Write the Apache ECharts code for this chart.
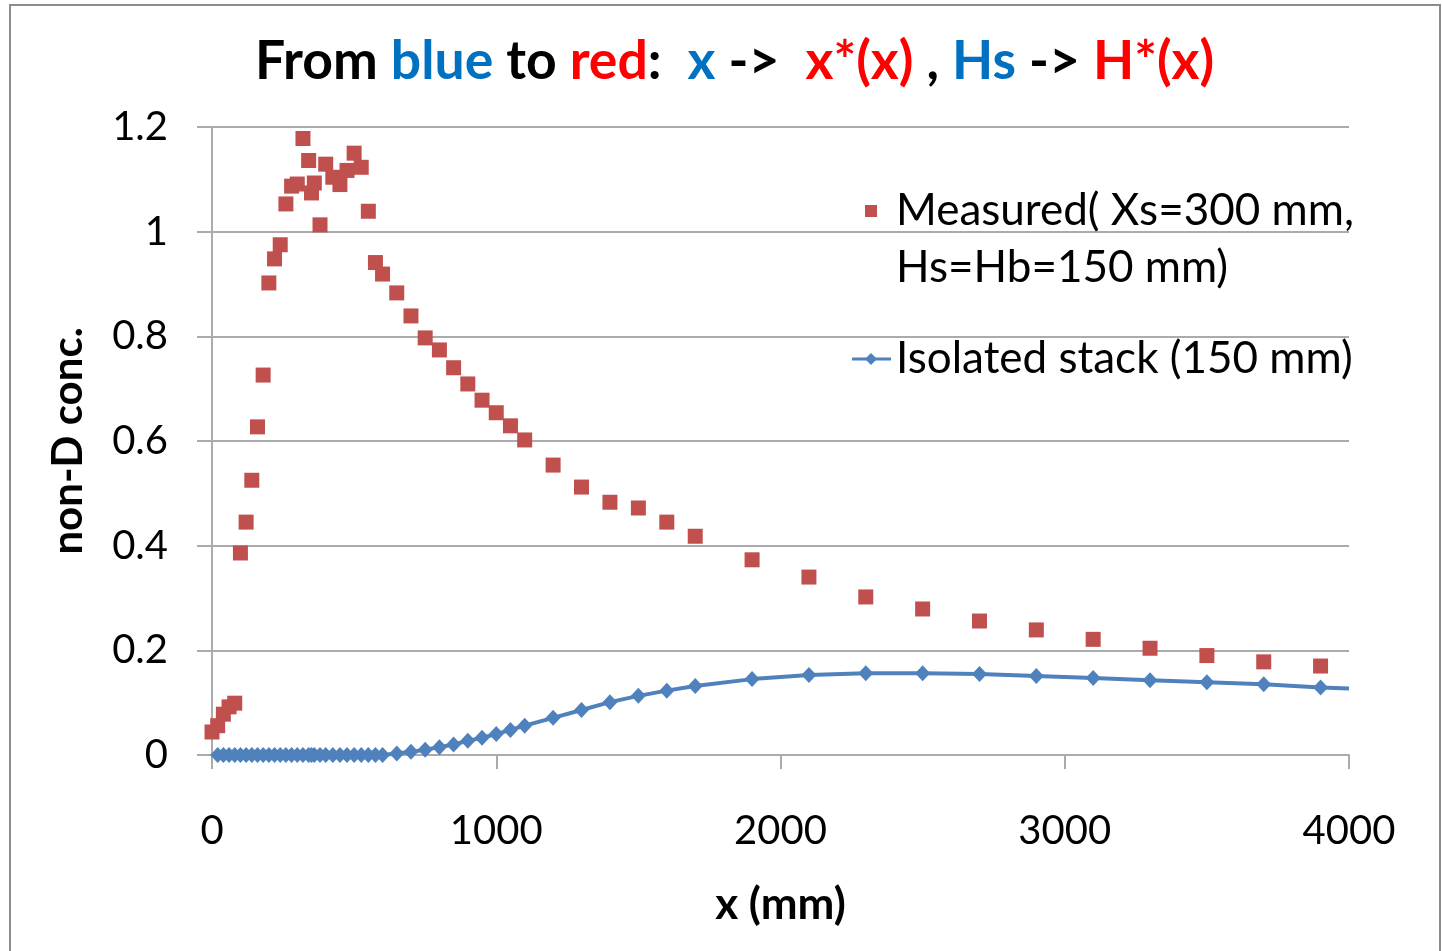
<!DOCTYPE html>
<html>
<head>
<meta charset="utf-8">
<script src="https://cdn.jsdelivr.net/npm/echarts@6/dist/echarts.min.js"></script>
<style>
  html, body { margin: 0; padding: 0; background: #ffffff; }
  #chart { width: 1442px; height: 951px; }
</style>
</head>
<body>
<div id="chart"></div>
<script>
// Measured non-dimensional concentration (red squares)
const measuredX = [0, 20, 40, 60, 80, 100, 120, 140, 160, 180, 200, 220, 240, 260, 280, 300,
  320, 340, 350, 360, 380, 400, 425, 450, 475, 500, 525, 550, 575, 600,
  650, 700, 750, 800, 850, 900, 950, 1000, 1050, 1100,
  1200, 1300, 1400, 1500, 1600, 1700,
  1900, 2100, 2300, 2500, 2700, 2900, 3100, 3300, 3500, 3700, 3900];
const measuredY = [0.044, 0.056, 0.078, 0.092, 0.099, 0.386, 0.445, 0.525, 0.627, 0.726, 0.902, 0.948, 0.975, 1.053, 1.087, 1.091,
  1.178, 1.136, 1.074, 1.093, 1.013, 1.129, 1.104, 1.090, 1.117, 1.150, 1.123, 1.039, 0.941, 0.919,
  0.883, 0.839, 0.797, 0.774, 0.740, 0.709, 0.678, 0.654, 0.629, 0.602,
  0.554, 0.512, 0.483, 0.472, 0.445, 0.418,
  0.373, 0.340, 0.302, 0.279, 0.256, 0.239, 0.221, 0.204, 0.190, 0.178, 0.170];

// Isolated stack model curve (blue line with diamonds)
const isolatedX = [20, 40, 60, 80, 100, 120, 140, 160, 180, 200, 220, 240, 260, 280, 300,
  320, 340, 350, 360, 380, 400, 425, 450, 475, 500, 525, 550, 575, 600,
  650, 700, 750, 800, 850, 900, 950, 1000, 1050, 1100,
  1200, 1300, 1400, 1500, 1600, 1700,
  1900, 2100, 2300, 2500, 2700, 2900, 3100, 3300, 3500, 3700, 3900, 4000];
const isolatedY = [0, 0, 0, 0, 0, 0, 0, 0, 0, 0, 0, 0, 0, 0, 0,
  0, 0, 0, 0, 0, 0, 0, 0, 0, 0, 0, 0, 0, 0,
  0.003, 0.006, 0.010, 0.015, 0.020, 0.027, 0.033, 0.040, 0.048, 0.056,
  0.071, 0.086, 0.101, 0.113, 0.123, 0.132,
  0.145, 0.153, 0.156, 0.156, 0.155, 0.151, 0.147, 0.143, 0.139, 0.135, 0.129, 0.127];
// the final point only carries the line to the axis end, without a marker
const isolatedEndsWithoutMarker = true;

const xTicks = [0, 1000, 2000, 3000, 4000];
const yTicks = [0, 0.2, 0.4, 0.6, 0.8, 1, 1.2];

const seriesNames = ['Measured( Xs=300 mm,\nHs=Hb=150 mm)', 'Isolated stack (150 mm)'];

const RED = '#C0504D';
const BLUE = '#4F81BD';
const GRID = '#ABABAB';
const FONT = 'Lato, "Open Sans", sans-serif';

const measuredData = measuredX.map((x, i) => [x, measuredY[i]]);
const isolatedData = isolatedX.map((x, i) => {
  const last = i === isolatedX.length - 1;
  return (last && isolatedEndsWithoutMarker)
    ? { value: [x, isolatedY[i]], symbol: 'none' }
    : [x, isolatedY[i]];
});

const chart = echarts.init(document.getElementById('chart'), null, { renderer: 'canvas' });

const TITLE_SIZE = 53.5;
chart.setOption({
  backgroundColor: '#ffffff',
  animation: false,
  title: {
    left: 250,
    top: 30,
    text: '{k|From }{b|blue}{k| to }{r|red}{k|:  }{b|x}{k| ->  }{r|x*(x)}{k| , }{b|Hs}{k| -> }{r|H*(x)}',
    textStyle: {
      fontFamily: FONT,
      fontSize: TITLE_SIZE,
      fontWeight: 'bold',
      rich: {
        k: { color: '#000000', fontFamily: FONT, fontSize: TITLE_SIZE, fontWeight: 'bold' },
        b: { color: '#0070C0', fontFamily: FONT, fontSize: TITLE_SIZE, fontWeight: 'bold' },
        r: { color: '#FF0000', fontFamily: FONT, fontSize: TITLE_SIZE, fontWeight: 'bold' }
      }
    }
  },
  grid: { left: 212, top: 127, width: 1137, height: 628, containLabel: false },
  xAxis: {
    type: 'value',
    min: 0, max: 4000, interval: 1000,
    name: 'x (mm)',
    nameLocation: 'middle',
    nameGap: 128,
    nameTextStyle: { fontFamily: FONT, fontSize: 44, fontWeight: 'bold', color: '#000' },
    axisLine: { show: true, onZero: false, lineStyle: { color: GRID, width: 2 } },
    axisTick: { show: true, inside: false, length: 14, lineStyle: { color: GRID, width: 2 } },
    axisLabel: {
      fontFamily: FONT, fontSize: 40, color: '#000', margin: 56,
      formatter: v => (xTicks.includes(v) ? String(v) : '')
    },
    splitLine: { show: false }
  },
  yAxis: {
    type: 'value',
    min: 0, max: 1.2, interval: 0.2,
    name: 'non-D conc.',
    nameLocation: 'middle',
    nameGap: 123,
    nameTextStyle: { fontFamily: FONT, fontSize: 42, fontWeight: 'bold', color: '#000' },
    axisLine: { show: true, lineStyle: { color: GRID, width: 2 } },
    axisTick: { show: true, inside: false, length: 15, lineStyle: { color: GRID, width: 2 } },
    axisLabel: {
      fontFamily: FONT, fontSize: 40, color: '#000', margin: 44,
      formatter: v => {
        const t = yTicks.find(t => Math.abs(t - v) < 1e-9);
        return t === undefined ? '' : String(t);
      }
    },
    splitLine: { show: true, lineStyle: { color: GRID, width: 2 } }
  },
  series: [
    {
      name: seriesNames[0],
      type: 'scatter',
      symbol: 'rect',
      symbolSize: 15,
      itemStyle: { color: RED, opacity: 1 },
      data: measuredData,
      z: 3
    },
    {
      name: seriesNames[1],
      type: 'line',
      symbol: 'diamond',
      symbolSize: [15, 16],
      showAllSymbol: true,
      lineStyle: { color: BLUE, width: 4 },
      itemStyle: { color: BLUE },
      data: isolatedData,
      z: 2
    }
  ],
  graphic: [
    // outer frame
    {
      type: 'rect', silent: true, z: 0,
      shape: { x: 10, y: 5, width: 1430, height: 960 },
      style: { fill: 'none', stroke: '#8C8C8C', lineWidth: 2 }
    },
    // legend: measured
    {
      type: 'rect', silent: true, z: 10,
      shape: { x: 865, y: 205, width: 12, height: 12 },
      style: { fill: RED }
    },
    {
      type: 'text', silent: true, z: 10,
      left: 896, top: 182,
      style: {
        text: seriesNames[0],
        fontFamily: FONT, fontSize: 44, fill: '#000', lineHeight: 57
      }
    },
    // legend: isolated stack
    {
      type: 'line', silent: true, z: 10,
      shape: { x1: 852, y1: 359, x2: 891, y2: 359 },
      style: { stroke: BLUE, lineWidth: 3 }
    },
    {
      type: 'polygon', silent: true, z: 11,
      shape: { points: [[871, 353], [877, 359], [871, 365], [865, 359]] },
      style: { fill: BLUE }
    },
    {
      type: 'text', silent: true, z: 10,
      left: 896, top: 337,
      style: {
        text: seriesNames[1],
        fontFamily: FONT, fontSize: 44, fill: '#000'
      }
    }
  ]
});
</script>
</body>
</html>
